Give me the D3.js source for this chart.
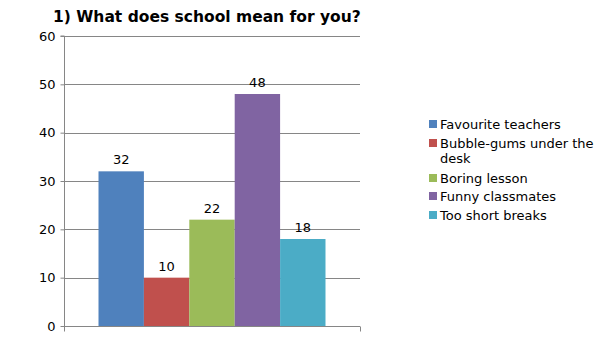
<!DOCTYPE html>
<html>
<head>
<meta charset="utf-8">
<script src="https://cdn.jsdelivr.net/npm/d3@7"></script>
<style>
  body { margin: 0; background: #fff; }
  svg { display: block; font-family: "DejaVu Sans", sans-serif; }
</style>
</head>
<body>
<svg id="chart" width="605" height="340"></svg>
<script>
// Chart data
const categories = [''];
const seriesNames = ['Favourite teachers', 'Bubble-gums under the desk', 'Boring lesson', 'Funny classmates', 'Too short breaks'];
const seriesValues = [32, 10, 22, 48, 18];
const seriesColors = ['#4f81bd', '#c0504d', '#9bbb59', '#8064a2', '#4bacc6'];
const yTicks = [0, 10, 20, 30, 40, 50, 60];

const svg = d3.select('#chart');

const plot = { left: 64, right: 360, top: 36, bottom: 326 };

// Scales
const x0 = d3.scaleBand()
  .domain(categories)
  .range([plot.left, plot.right])
  .paddingInner(0)
  .paddingOuter(0.152);

const x1 = d3.scaleBand()
  .domain(seriesNames)
  .range([0, x0.bandwidth()]);

const y = d3.scaleLinear()
  .domain([0, 60])
  .range([plot.bottom, plot.top]);

// Gridlines
svg.append('g')
  .selectAll('line')
  .data(yTicks.slice(1))
  .join('line')
  .attr('x1', plot.left)
  .attr('x2', plot.right)
  .attr('y1', (d) => Math.round(y(d)) + 0.5)
  .attr('y2', (d) => Math.round(y(d)) + 0.5)
  .attr('stroke', '#868686')
  .attr('stroke-width', 1);

// Bars
const group = svg.append('g')
  .attr('transform', `translate(${x0('')},0)`);

group.selectAll('rect')
  .data(seriesValues)
  .join('rect')
  .attr('x', (d, i) => x1(seriesNames[i]))
  .attr('y', (d) => y(d))
  .attr('width', x1.bandwidth())
  .attr('height', (d) => y(0) - y(d))
  .attr('fill', (d, i) => seriesColors[i]);

// Value labels
group.selectAll('text')
  .data(seriesValues)
  .join('text')
  .attr('x', (d, i) => x1(seriesNames[i]) + x1.bandwidth() / 2)
  .attr('y', (d) => y(d) - 7)
  .attr('text-anchor', 'middle')
  .attr('font-size', 13)
  .attr('fill', '#000')
  .text((d) => d);

// Y axis
const yAxis = svg.append('g')
  .attr('transform', `translate(${plot.left + 0.5},0)`)
  .call(d3.axisLeft(y).tickValues(yTicks).tickSize(4).tickPadding(5));
yAxis.select('.domain').attr('stroke', '#868686').attr('d', `M-4,${y(60)}H0V${y(0)}`);
yAxis.selectAll('.tick line').attr('stroke', '#868686');
yAxis.selectAll('.tick text').attr('font-size', 13).attr('font-family', '"DejaVu Sans", sans-serif').attr('fill', '#000');

// X axis
const xAxis = svg.append('g')
  .attr('transform', `translate(0,${Math.round(y(0)) + 0.5})`);
xAxis.append('line')
  .attr('x1', plot.left)
  .attr('x2', plot.right)
  .attr('stroke', '#868686');
xAxis.selectAll('.edge')
  .data([plot.left, plot.right])
  .join('line')
  .attr('class', 'edge')
  .attr('x1', (d) => d + 0.5)
  .attr('x2', (d) => d + 0.5)
  .attr('y1', 0)
  .attr('y2', 5)
  .attr('stroke', '#868686');

// Title
svg.append('text')
  .attr('x', 53)
  .attr('y', 22)
  .attr('font-size', 15.5)
  .attr('font-weight', 'bold')
  .attr('fill', '#000')
  .text('1) What does school mean for you?');

// Legend
const legendRows = [
  { name: seriesNames[0], lines: ['Favourite teachers'] },
  { name: seriesNames[1], lines: ['Bubble-gums under the', 'desk'] },
  { name: seriesNames[2], lines: ['Boring lesson'] },
  { name: seriesNames[3], lines: ['Funny classmates'] },
  { name: seriesNames[4], lines: ['Too short breaks'] }
];
const legendY = [124, 143, 178, 196, 215];

const legend = svg.append('g');
const item = legend.selectAll('g')
  .data(legendRows)
  .join('g')
  .attr('transform', (d, i) => `translate(429,${legendY[i]})`);

item.append('rect')
  .attr('x', 0)
  .attr('y', -4)
  .attr('width', 8)
  .attr('height', 8)
  .attr('fill', (d, i) => seriesColors[i]);

item.each(function (d) {
  d3.select(this).selectAll('text')
    .data(d.lines)
    .join('text')
    .attr('x', 11)
    .attr('y', (t, j) => j * 15 + 4.5)
    .attr('font-size', 13)
    .attr('fill', '#000')
    .text((t) => t);
});
</script>
</body>
</html>
